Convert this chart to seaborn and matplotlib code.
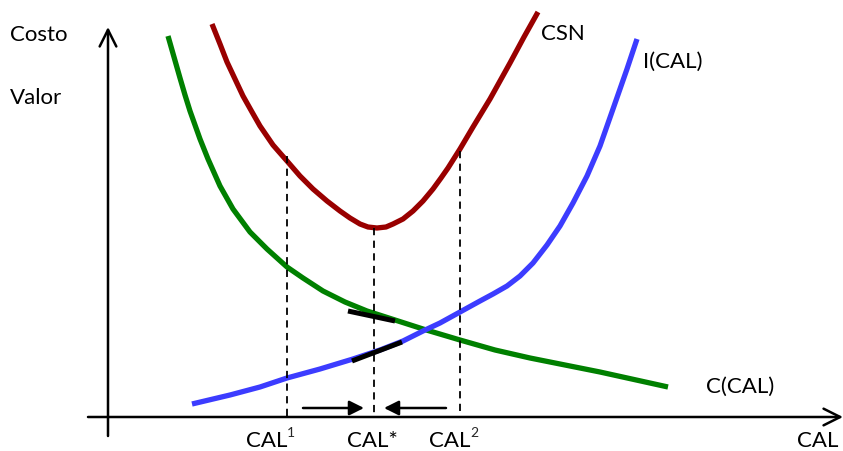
import matplotlib
matplotlib.use("Agg")
import matplotlib.pyplot as plt
import seaborn as sns
import pandas as pd

# Curves (picture coordinates, y grows downward)
cost_x = [168, 174, 180, 185, 190, 200, 208, 220, 233, 250, 267, 287, 303, 323, 345, 367,
          395, 423, 460, 495, 530, 600, 668]
cost_y = [37, 58, 79, 96, 112, 140, 160, 187, 210, 233, 250, 268, 279, 292, 303, 312,
          321, 330, 341, 351, 359, 373, 388]

csn_x = [212, 220, 227, 235, 243, 252, 260, 273, 287, 300, 313, 327, 340, 350, 360, 368, 377,
         386, 393, 403, 413, 423, 433, 441, 448, 460, 473, 490, 510, 524, 538]
csn_y = [25, 45, 63, 80, 97, 113, 127, 146, 162, 177, 190, 202, 212, 219, 225, 228, 229,
         228, 225, 220, 212, 202, 190, 179, 169, 150, 128, 100, 64, 38, 13]

inc_x = [192, 230, 260, 287, 320, 353, 380, 403, 423, 440, 460, 480, 493, 507, 520, 533,
         547, 560, 573, 587, 600, 613, 627, 637]
inc_y = [405, 396, 388, 379, 370, 360, 351, 342, 332, 324, 313, 302, 295, 287, 277, 264,
         246, 227, 204, 177, 147, 110, 70, 40]

# Reference levels CAL1, CAL*, CAL2 and where the dashed guides start
cal_x = [287, 374, 460]
cal_top = [157, 229, 152]
cal_labels = ["CAL", "CAL*", "CAL"]
cal_sup = ["1", "", "2"]

# Tangent segments at CAL*
tan_c = ([348, 395], [312, 322])
tan_i = ([352, 402], [362, 343])

axis_y0 = 418
curve_lw = 3.8

sns.set_theme(style="white")
plt.rcParams["font.family"] = ["Lato", "DejaVu Sans"]

fig = plt.figure(figsize=(8.43, 4.52), dpi=100)
ax = fig.add_axes([0, 0, 1, 1])
ax.set_xlim(0, 843)
ax.set_ylim(452, 0)
ax.axis("off")

curves = [
    (cost_x, cost_y, "#008000"),
    (csn_x, csn_y, "#990000"),
    (inc_x, inc_y, "#3c3cff"),
]
for xs, ys, col in curves:
    df = pd.DataFrame({"x": xs, "y": ys})
    sns.lineplot(data=df, x="x", y="y", sort=False, estimator=None,
                 color=col, lw=curve_lw, ax=ax,
                 solid_capstyle="butt", solid_joinstyle="round")

# dashed guides down to the horizontal axis
for x, top in zip(cal_x, cal_top):
    ax.plot([x, x], [top, axis_y0], color="black", lw=1.3, ls=(0, (4, 3)))

# tangents
ax.plot(*tan_c, color="black", lw=3.6, solid_capstyle="butt")
ax.plot(*tan_i, color="black", lw=3.6, solid_capstyle="butt")

# axes with open arrow heads
ax.annotate("", xy=(108, 28), xytext=(108, 437),
            arrowprops=dict(arrowstyle="->", lw=1.8, color="black",
                            mutation_scale=30, shrinkA=0, shrinkB=0))
ax.annotate("", xy=(843, axis_y0), xytext=(88, axis_y0),
            arrowprops=dict(arrowstyle="->", lw=1.8, color="black",
                            mutation_scale=30, shrinkA=0, shrinkB=0))

# convergence arrows towards CAL*
ax.annotate("", xy=(364, 409), xytext=(303, 409),
            arrowprops=dict(arrowstyle="-|>", lw=1.8, color="black",
                            mutation_scale=22, shrinkA=0, shrinkB=0))
ax.annotate("", xy=(384, 409), xytext=(446, 409),
            arrowprops=dict(arrowstyle="-|>", lw=1.8, color="black",
                            mutation_scale=22, shrinkA=0, shrinkB=0))

fs = 16
txt = dict(fontsize=fs, color="black", ha="left", va="baseline")
ax.text(10, 41, "Costo", **txt)
ax.text(10, 104, "Valor", **txt)
ax.text(541, 40, "CSN", **txt)
ax.text(643, 68, "I(CAL)", **txt)
ax.text(706, 393, "C(CAL)", **txt)
ax.text(797, 447, "CAL", **txt)

label_left = [246, 347, 429]
for left, lab, sup in zip(label_left, cal_labels, cal_sup):
    ax.text(left, 447, lab, **txt)
    if sup:
        ax.text(left + 41, 437, sup, fontsize=10, ha="left", va="baseline")

fig.savefig("out.png", dpi=100)
